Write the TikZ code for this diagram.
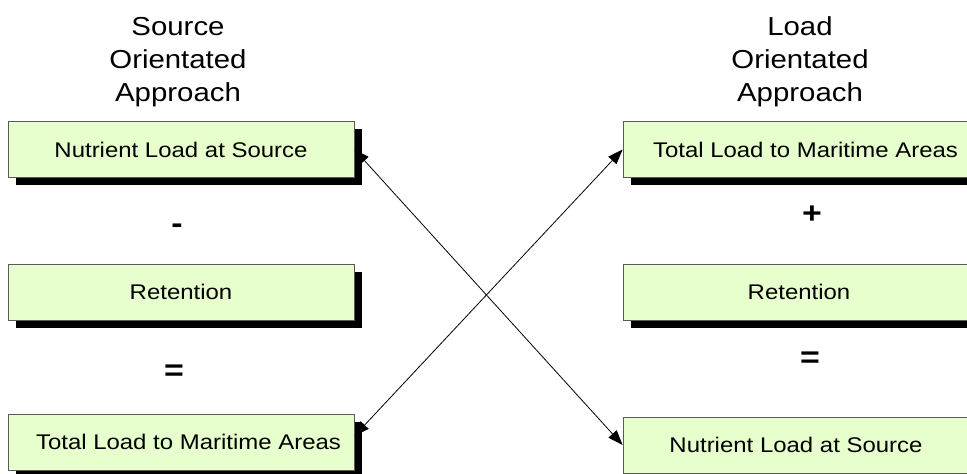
\documentclass[tikz,border=0pt]{standalone}
\usepackage{fontspec}
\setmainfont{Liberation Sans}[FakeStretch=1.13]
\usetikzlibrary{shadows,arrows.meta}
\definecolor{boxfill}{RGB}{230,255,204}
\definecolor{boxline}{RGB}{90,90,90}
\tikzset{
 stepbox/.style={draw=boxline, line width=0.8bp, fill=boxfill, minimum width=346bp, minimum height=56bp, inner sep=0pt,
   font=\fontsize{21.2bp}{25bp}\selectfont,
   drop shadow={shadow xshift=8bp, shadow yshift=-8bp, fill=black, opacity=1}},
 titletext/.style={align=center, inner sep=0pt, font=\fontsize{26bp}{33bp}\selectfont},
 optext/.style={inner sep=0pt, anchor=base, font=\fontsize{30bp}{34bp}\selectfont\bfseries},
 link/.style={draw=black, line width=0.8bp, {Triangle[length=15bp,width=11bp]}-{Triangle[length=15bp,width=11bp]}}
}
\begin{document}
\begin{tikzpicture}[x=1bp,y=-1bp]
\useasboundingbox (0,0) rectangle (967,474);
\clip (0,0) rectangle (967,474);
\node[titletext] (ltitle) at (178,62) {Source\\Orientated\\Approach};
\node[titletext] (rtitle) at (800,62) {Load\\Orientated\\Approach};
\node[stepbox] (lsrc) at (181,149.5) {Nutrient Load at Source};
\node[stepbox] (lret) at (181,292) {Retention};
\node[stepbox] (ltot) at (181,442) {\hspace*{15bp}Total Load to Maritime Areas};
\node[stepbox] (rtot) at (796,149.5) {\hspace*{19bp}Total Load to Maritime Areas};
\node[stepbox] (rret) at (796,292) {\hspace*{6bp}Retention};
\node[stepbox] (rsrc) at (796,445) {Nutrient Load at Source};
\node[optext] (minus) at (177,234) {-};
\node[optext] (eqleft) at (174,380.5) {=};
\node[optext] (plus) at (812,224) {+};
\node[optext] (eqright) at (810,367.5) {=};
\draw[link] (lsrc.east) -- (rsrc.west);
\draw[link] ([yshift=6bp]ltot.east) -- (rtot.west);
\end{tikzpicture}
\end{document}
